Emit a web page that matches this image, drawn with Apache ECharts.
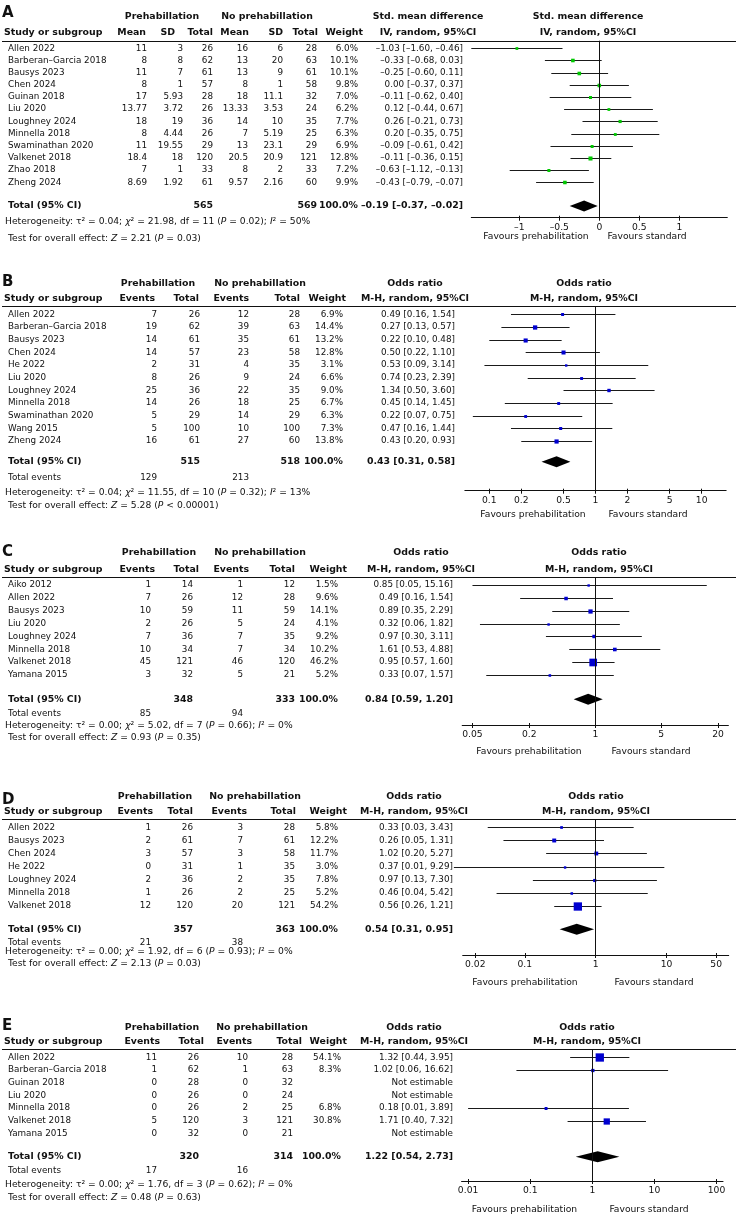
<!DOCTYPE html>
<html><head><meta charset="utf-8">
<script src="https://cdn.jsdelivr.net/npm/echarts@6/dist/echarts.min.js"></script>
<style>html,body{margin:0;padding:0;background:#fff}#c{width:738px;height:1217px}</style>
</head><body><div id="c"></div>
<script>
// ================= DATA =================
// ---- A: Std. mean difference ----
const A_studies = ['Allen 2022','Barberan–Garcia 2018','Bausys 2023','Chen 2024','Guinan 2018','Liu 2020','Loughney 2024','Minnella 2018','Swaminathan 2020','Valkenet 2018','Zhao 2018','Zheng 2024'];
const A_preMean = ['11','8','11','8','17','13.77','18','8','11','18.4','7','8.69'];
const A_preSD = ['3','8','7','1','5.93','3.72','19','4.44','19.55','18','1','1.92'];
const A_preTotal = [26,62,61,57,28,26,36,26,29,120,33,61];
const A_noMean = ['16','13','13','8','18','13.33','14','7','13','20.5','8','9.57'];
const A_noSD = ['6','20','9','1','11.1','3.53','10','5.19','23.1','20.9','2','2.16'];
const A_noTotal = [28,63,61,58,32,24,35,25,29,121,33,60];
const A_weight = [6.0,10.1,10.1,9.8,7.0,6.2,7.7,6.3,6.9,12.8,7.2,9.9];
const A_est = [-1.03,-0.33,-0.25,0.00,-0.11,0.12,0.26,0.20,-0.09,-0.11,-0.63,-0.43];
const A_lo  = [-1.60,-0.68,-0.60,-0.37,-0.62,-0.44,-0.21,-0.35,-0.61,-0.36,-1.12,-0.79];
const A_hi  = [-0.46,0.03,0.11,0.37,0.40,0.67,0.73,0.75,0.42,0.15,-0.13,-0.07];
const A_totalN = [565,569];
const A_totalEff = [-0.19,-0.37,-0.02];
const A_het = 'Heterogeneity: τ² = 0.04; {i|χ}² = 21.98, df = 11 ({i|P} = 0.02); {i|I}² = 50%';
const A_test = 'Test for overall effect: {i|Z} = 2.21 ({i|P} = 0.03)';
const A_ticks = [-1,-0.5,0,0.5,1];
const A_tickLabels = ['–1','–0.5','0','0.5','1'];

// ---- B ----
const B_studies = ['Allen 2022','Barberan–Garcia 2018','Bausys 2023','Chen 2024','He 2022','Liu 2020','Loughney 2024','Minnella 2018','Swaminathan 2020','Wang 2015','Zheng 2024'];
const B_preEvents = [7,19,14,14,2,8,25,14,5,5,16];
const B_preTotal = [26,62,61,57,31,26,36,26,29,100,61];
const B_noEvents = [12,39,35,23,4,9,22,18,14,10,27];
const B_noTotal = [28,63,61,58,35,24,35,25,29,100,60];
const B_weight = [6.9,14.4,13.2,12.8,3.1,6.6,9.0,6.7,6.3,7.3,13.8];
const B_or = [0.49,0.27,0.22,0.50,0.53,0.74,1.34,0.45,0.22,0.47,0.43];
const B_lo = [0.16,0.13,0.10,0.22,0.09,0.23,0.50,0.14,0.07,0.16,0.20];
const B_hi = [1.54,0.57,0.48,1.10,3.14,2.39,3.60,1.45,0.75,1.44,0.93];
const B_totalN = [515,518];
const B_totalEvents = [129,213];
const B_totalEff = [0.43,0.31,0.58];
const B_het = 'Heterogeneity: τ² = 0.04; {i|χ}² = 11.55, df = 10 ({i|P} = 0.32); {i|I}² = 13%';
const B_test = 'Test for overall effect: {i|Z} = 5.28 ({i|P} < 0.00001)';
const B_ticks = [0.1,0.2,0.5,1,2,5,10];
const B_tickLabels = ['0.1','0.2','0.5','1','2','5','10'];

// ---- C ----
const C_studies = ['Aiko 2012','Allen 2022','Bausys 2023','Liu 2020','Loughney 2024','Minnella 2018','Valkenet 2018','Yamana 2015'];
const C_preEvents = [1,7,10,2,7,10,45,3];
const C_preTotal = [14,26,59,26,36,34,121,32];
const C_noEvents = [1,12,11,5,7,7,46,5];
const C_noTotal = [12,28,59,24,35,34,120,21];
const C_weight = [1.5,9.6,14.1,4.1,9.2,10.2,46.2,5.2];
const C_or = [0.85,0.49,0.89,0.32,0.97,1.61,0.95,0.33];
const C_lo = [0.05,0.16,0.35,0.06,0.30,0.53,0.57,0.07];
const C_hi = [15.16,1.54,2.29,1.82,3.11,4.88,1.60,1.57];
const C_totalN = [348,333];
const C_totalEvents = [85,94];
const C_totalEff = [0.84,0.59,1.20];
const C_het = 'Heterogeneity: τ² = 0.00; {i|χ}² = 5.02, df = 7 ({i|P} = 0.66); {i|I}² = 0%';
const C_test = 'Test for overall effect: {i|Z} = 0.93 ({i|P} = 0.35)';
const C_ticks = [0.05,0.2,1,5,20];
const C_tickLabels = ['0.05','0.2','1','5','20'];

// ---- D ----
const D_studies = ['Allen 2022','Bausys 2023','Chen 2024','He 2022','Loughney 2024','Minnella 2018','Valkenet 2018'];
const D_preEvents = [1,2,3,0,2,1,12];
const D_preTotal = [26,61,57,31,36,26,120];
const D_noEvents = [3,7,3,1,2,2,20];
const D_noTotal = [28,61,58,35,35,25,121];
const D_weight = [5.8,12.2,11.7,3.0,7.8,5.2,54.2];
const D_or = [0.33,0.26,1.02,0.37,0.97,0.46,0.56];
const D_lo = [0.03,0.05,0.20,0.01,0.13,0.04,0.26];
const D_hi = [3.43,1.31,5.27,9.29,7.30,5.42,1.21];
const D_totalN = [357,363];
const D_totalEvents = [21,38];
const D_totalEff = [0.54,0.31,0.95];
const D_het = 'Heterogeneity: τ² = 0.00; {i|χ}² = 1.92, df = 6 ({i|P} = 0.93); {i|I}² = 0%';
const D_test = 'Test for overall effect: {i|Z} = 2.13 ({i|P} = 0.03)';
const D_ticks = [0.02,0.1,1,10,50];
const D_tickLabels = ['0.02','0.1','1','10','50'];

// ---- E ----
const E_studies = ['Allen 2022','Barberan–Garcia 2018','Guinan 2018','Liu 2020','Minnella 2018','Valkenet 2018','Yamana 2015'];
const E_preEvents = [11,1,0,0,0,5,0];
const E_preTotal = [26,62,28,26,26,120,32];
const E_noEvents = [10,1,0,0,2,3,0];
const E_noTotal = [28,63,32,24,25,121,21];
const E_weight = [54.1,8.3,null,null,6.8,30.8,null];
const E_or = [1.32,1.02,null,null,0.18,1.71,null];
const E_lo = [0.44,0.06,null,null,0.01,0.40,null];
const E_hi = [3.95,16.62,null,null,3.89,7.32,null];
const E_totalN = [320,314];
const E_totalEvents = [17,16];
const E_totalEff = [1.22,0.54,2.73];
const E_het = 'Heterogeneity: τ² = 0.00; {i|χ}² = 1.76, df = 3 ({i|P} = 0.62); {i|I}² = 0%';
const E_test = 'Test for overall effect: {i|Z} = 0.48 ({i|P} = 0.63)';
const E_ticks = [0.01,0.1,1,10,100];
const E_tickLabels = ['0.01','0.1','1','10','100'];

// ================= LAYOUT (pixels) =================
const LAY_A = {letterY:13, hdr1Y:16.7, hdr2Y:32.3, lineY:40.7, firstY:48.3, rowH:12.18, totalY:206, eventsY:null, hetY:221.5, testY:239, axisY:217.7, favY:237,
  groupX:[162,267], headR:[146,175,213,249,283,318,363], valR:[147,183,213,248,283,317,358], effR:463, effHeadX:428, plotHeadX:588,
  center:599.3, ppu:80, half:1.6, favX:[536,647]};
const LAY_B = {letterY:281.7, hdr1Y:283.3, hdr2Y:298.3, lineY:306, firstY:314.3, rowH:12.67, totalY:461.7, eventsY:478, hetY:492.5, testY:506, axisY:490.7, favY:514.3,
  groupX:[158,260], headR:[155,199,249,300,346], valR:[157,200,249,300,343], effR:455, effHeadX:415, plotHeadX:584,
  center:595.5, ppu:106.2, half:1.23, favX:[533,648]};
const LAY_C = {letterY:552, hdr1Y:552.7, hdr2Y:569.3, lineY:577.3, firstY:585, rowH:12.86, totalY:699.3, eventsY:713.3, hetY:726, testY:737.3, axisY:725, favY:751.7,
  groupX:[159,260], headR:[155,199,249,295,347], valR:[151,193,243,295,338], effR:453, effHeadX:421, plotHeadX:599,
  center:595.3, ppu:94.4, half:1.41, favX:[529,651]};
const LAY_D = {letterY:800, hdr1Y:796.7, hdr2Y:811.7, lineY:819.3, firstY:827.3, rowH:13.07, totalY:929.3, eventsY:942.7, hetY:951.7, testY:963.3, axisY:955, favY:982.3,
  groupX:[155,255], headR:[153,193,247,296,347], valR:[151,193,243,295,338], effR:453, effHeadX:414, plotHeadX:596,
  center:595.7, ppu:70.9, half:1.876, favX:[525,654]};
const LAY_E = {letterY:1026, hdr1Y:1027.3, hdr2Y:1041.7, lineY:1049, firstY:1057.3, rowH:12.67, totalY:1156.7, eventsY:1171, hetY:1185, testY:1197.3, axisY:1181, favY:1210,
  groupX:[162,262], headR:[160,204,252,302,347], valR:[157,199,248,293,341], effR:453, effHeadX:414, plotHeadX:587,
  center:592.3, ppu:62.1, half:2.105, favX:[524.5,649]};

const FAM = '"DejaVu Sans", Verdana, sans-serif';
const STY = {
  n: {fontSize:8.8, fontWeight:'normal'},
  b: {fontSize:9.4, fontWeight:'bold'},
  letter: {fontSize:15, fontWeight:'bold'},
  f: {fontSize:9.2, fontWeight:'normal'}
};
const TXT = '#111';

const panels = [
  {letter:'A', h1:'Std. mean difference', h2:'IV, random, 95%CI', log:false, color:'#00c800',
   studies:A_studies, colHeads:['Mean','SD','Total','Mean','SD','Total','Weight'],
   cols:[A_preMean,A_preSD,A_preTotal,A_noMean,A_noSD,A_noTotal], weight:A_weight,
   est:A_est, lo:A_lo, hi:A_hi, totalIdx:[2,5], totalN:A_totalN, eventsIdx:null, totalEvents:null,
   totalEff:A_totalEff, het:A_het, test:A_test, ticks:A_ticks, tickLabels:A_tickLabels, L:LAY_A},
  {letter:'B', h1:'Odds ratio', h2:'M-H, random, 95%CI', log:true, color:'#0000d0',
   studies:B_studies, colHeads:['Events','Total','Events','Total','Weight'],
   cols:[B_preEvents,B_preTotal,B_noEvents,B_noTotal], weight:B_weight,
   est:B_or, lo:B_lo, hi:B_hi, totalIdx:[1,3], totalN:B_totalN, eventsIdx:[0,2], totalEvents:B_totalEvents,
   totalEff:B_totalEff, het:B_het, test:B_test, ticks:B_ticks, tickLabels:B_tickLabels, L:LAY_B},
  {letter:'C', h1:'Odds ratio', h2:'M-H, random, 95%CI', log:true, color:'#0000d0',
   studies:C_studies, colHeads:['Events','Total','Events','Total','Weight'],
   cols:[C_preEvents,C_preTotal,C_noEvents,C_noTotal], weight:C_weight,
   est:C_or, lo:C_lo, hi:C_hi, totalIdx:[1,3], totalN:C_totalN, eventsIdx:[0,2], totalEvents:C_totalEvents,
   totalEff:C_totalEff, het:C_het, test:C_test, ticks:C_ticks, tickLabels:C_tickLabels, L:LAY_C},
  {letter:'D', h1:'Odds ratio', h2:'M-H, random, 95%CI', log:true, color:'#0000d0',
   studies:D_studies, colHeads:['Events','Total','Events','Total','Weight'],
   cols:[D_preEvents,D_preTotal,D_noEvents,D_noTotal], weight:D_weight,
   est:D_or, lo:D_lo, hi:D_hi, totalIdx:[1,3], totalN:D_totalN, eventsIdx:[0,2], totalEvents:D_totalEvents,
   totalEff:D_totalEff, het:D_het, test:D_test, ticks:D_ticks, tickLabels:D_tickLabels, L:LAY_D},
  {letter:'E', h1:'Odds ratio', h2:'M-H, random, 95%CI', log:true, color:'#0000d0',
   studies:E_studies, colHeads:['Events','Total','Events','Total','Weight'],
   cols:[E_preEvents,E_preTotal,E_noEvents,E_noTotal], weight:E_weight,
   est:E_or, lo:E_lo, hi:E_hi, totalIdx:[1,3], totalN:E_totalN, eventsIdx:[0,2], totalEvents:E_totalEvents,
   totalEff:E_totalEff, het:E_het, test:E_test, ticks:E_ticks, tickLabels:E_tickLabels, L:LAY_E}
];

function fmtNum(v){ return (v<0?'–':'') + Math.abs(v).toFixed(2); }
function fmtCI(e,l,h){ return fmtNum(e)+' ['+fmtNum(l)+', '+fmtNum(h)+']'; }

const grids=[], xAxes=[], yAxes=[], series=[];

function addPanel(P){
  const L = P.L;
  const toRow = py => (py - L.firstY)/L.rowH;
  const yMin = toRow(L.lineY), yMax = toRow(L.axisY);
  const top = L.lineY, height = L.axisY - L.lineY;
  const tf = P.log ? (v => Math.log10(v)) : (v => v);

  // ---------- table text ----------
  const items = [];
  const T = (x,row,text,align,st) => items.push({k:'t',x,row,text,align,st:st||'n'});
  const TP = (x,py,text,align,st) => T(x,toRow(py),text,align,st);
  TP(2, L.letterY, P.letter, 'left', 'letter');
  TP(L.groupX[0], L.hdr1Y, 'Prehabillation', 'center', 'b');
  TP(L.groupX[1], L.hdr1Y, 'No prehabillation', 'center', 'b');
  TP(L.effHeadX, L.hdr1Y, P.h1, 'center', 'b');
  TP(L.effHeadX, L.hdr2Y, P.h2, 'center', 'b');
  TP(L.plotHeadX, L.hdr1Y, P.h1, 'center', 'b');
  TP(L.plotHeadX, L.hdr2Y, P.h2, 'center', 'b');
  TP(4, L.hdr2Y, 'Study or subgroup', 'left', 'b');
  P.colHeads.forEach((h,i)=>TP(L.headR[i], L.hdr2Y, h, 'right', 'b'));
  items.push({k:'l', x:2, x2:736, row:yMin});
  const nc = P.cols.length;
  P.studies.forEach((s,r)=>{
    T(8, r, s, 'left');
    P.cols.forEach((col,i)=>T(L.valR[i], r, String(col[r]), 'right'));
    if (P.weight[r] != null) T(L.valR[nc], r, P.weight[r].toFixed(1)+'%', 'right');
    T(L.effR, r, P.est[r]==null ? 'Not estimable' : fmtCI(P.est[r],P.lo[r],P.hi[r]), 'right');
  });
  TP(8, L.totalY, 'Total (95% CI)', 'left', 'b');
  P.totalIdx.forEach((ci,k)=>TP(L.valR[ci], L.totalY, String(P.totalN[k]), 'right', 'b'));
  TP(L.valR[nc], L.totalY, '100.0%', 'right', 'b');
  TP(L.effR, L.totalY, fmtCI(P.totalEff[0],P.totalEff[1],P.totalEff[2]), 'right', 'b');
  if (P.totalEvents){
    TP(8, L.eventsY, 'Total events', 'left');
    P.eventsIdx.forEach((ci,k)=>TP(L.valR[ci], L.eventsY, String(P.totalEvents[k]), 'right'));
  }
  TP(5, L.hetY, P.het, 'left', 'f');
  TP(8, L.testY, P.test, 'left', 'f');
  TP(L.favX[0], L.favY, 'Favours prehabilitation', 'center', 'f');
  TP(L.favX[1], L.favY, 'Favours standard', 'center', 'f');

  const gt = grids.length;
  grids.push({left:0, top, width:738, height, containLabel:false, outerBoundsMode:'none'});
  xAxes.push({type:'value', gridIndex:gt, min:0, max:738, show:false});
  const xt = xAxes.length-1;
  yAxes.push({type:'value', gridIndex:gt, min:yMin, max:yMax, inverse:true, show:false});
  const yt = yAxes.length-1;
  series.push({
    type:'custom', coordinateSystem:'cartesian2d', xAxisIndex:xt, yAxisIndex:yt, silent:true, clip:false,
    data: items.map(it=>[it.x, it.row]), encode:{x:0, y:1},
    renderItem:(params, api)=>{
      const it = items[params.dataIndex];
      const p = api.coord([api.value(0), api.value(1)]);
      if (it.k === 'l'){
        const p2 = api.coord([it.x2, api.value(1)]);
        const y = Math.round(p[1]) + 0.5;
        return {type:'line', shape:{x1:p[0], y1:y, x2:p2[0], y2:y}, style:{stroke:'#111', lineWidth:1}};
      }
      const st = STY[it.st];
      return {type:'text', x:p[0], y:p[1], style:{
        text: it.text, fill: TXT, align: it.align, verticalAlign:'middle',
        fontSize: st.fontSize, fontWeight: st.fontWeight, fontFamily: FAM,
        rich: {i:{fontStyle:'italic', fontSize: st.fontSize, fontFamily: FAM, fill: TXT}}
      }};
    }
  });

  // ---------- plot ----------
  const plotL = L.center - L.half*L.ppu, plotR = L.center + L.half*L.ppu;
  const gp = grids.length;
  grids.push({left:plotL, top, width:plotR-plotL, height, containLabel:false, outerBoundsMode:'none'});
  const tickVals = P.ticks.map(tf);
  const labelFor = v => { let b=0; tickVals.forEach((t,i)=>{ if (Math.abs(t-v) < Math.abs(tickVals[b]-v)) b=i; }); return P.tickLabels[b]; };
  xAxes.push({type:'value', gridIndex:gp, position:'bottom', min:-L.half, max:L.half,
    axisLine:{show:true, onZero:false, lineStyle:{color:'#111', width:1}},
    axisTick:{show:true, customValues:tickVals, length:3, lineStyle:{color:'#111', width:1}},
    axisLabel:{show:true, customValues:tickVals, formatter:labelFor, fontSize:9.2, fontFamily:FAM, color:TXT, margin:5},
    splitLine:{show:false}});
  const xp = xAxes.length-1;
  xAxes.push({type:'value', gridIndex:gp, position:'bottom', min:-L.half, max:L.half,
    axisLine:{show:false, onZero:false},
    axisTick:{show:true, inside:true, customValues:tickVals, length:2, lineStyle:{color:'#111', width:1}},
    axisLabel:{show:false}, splitLine:{show:false}});
  yAxes.push({type:'value', gridIndex:gp, min:yMin, max:yMax, inverse:true, show:false});
  const yp = yAxes.length-1;

  const studyData = [];
  P.studies.forEach((s,r)=>{ if (P.est[r]!=null) studyData.push([tf(P.est[r]), tf(P.lo[r]), tf(P.hi[r]), r, P.weight[r]]); });
  const color = P.color;
  series.push({
    type:'custom', coordinateSystem:'cartesian2d', xAxisIndex:xp, yAxisIndex:yp, silent:true, clip:false, z:3,
    data: studyData, encode:{x:[0,1,2], y:3},
    renderItem:(params, api)=>{
      const e=api.value(0), l=api.value(1), h=api.value(2), r=api.value(3), w=api.value(4);
      const pl=api.coord([l,r]), ph=api.coord([h,r]), pe=api.coord([e,r]);
      const y = Math.round(pe[1]) + 0.5;
      const s = Math.max(2.4, 1.13*Math.sqrt(w));
      return {type:'group', children:[
        {type:'line', shape:{x1:pl[0], y1:y, x2:ph[0], y2:y}, style:{stroke:'#1a1a1a', lineWidth:1}},
        {type:'rect', shape:{x:pe[0]-s/2, y:y-s/2, width:s, height:s}, style:{fill:color}}
      ]};
    },
    markLine:{silent:true, symbol:['none','none'], animation:false, label:{show:false},
      lineStyle:{color:'#111', width:1, type:'solid'}, emphasis:{disabled:true},
      data:[{xAxis:0}]}
  });
  const te = P.totalEff;
  series.push({
    type:'custom', coordinateSystem:'cartesian2d', xAxisIndex:xp, yAxisIndex:yp, silent:true, clip:false, z:4,
    data:[[tf(te[0]), tf(te[1]), tf(te[2]), toRow(L.totalY)]], encode:{x:[0,1,2], y:3},
    renderItem:(params, api)=>{
      const e=api.value(0), l=api.value(1), h=api.value(2), r=api.value(3);
      const pl=api.coord([l,r]), ph=api.coord([h,r]), pe=api.coord([e,r]);
      const hh = 5.5;
      return {type:'polygon', shape:{points:[[pl[0],pe[1]],[pe[0],pe[1]-hh],[ph[0],pe[1]],[pe[0],pe[1]+hh]]}, style:{fill:'#000'}};
    }
  });
}

panels.forEach(addPanel);

const chart = echarts.init(document.getElementById('c'), null, {renderer:'canvas'});
chart.setOption({
  animation:false,
  backgroundColor:'#fff',
  grid:grids, xAxis:xAxes, yAxis:yAxes, series
});
</script>
</body></html>
